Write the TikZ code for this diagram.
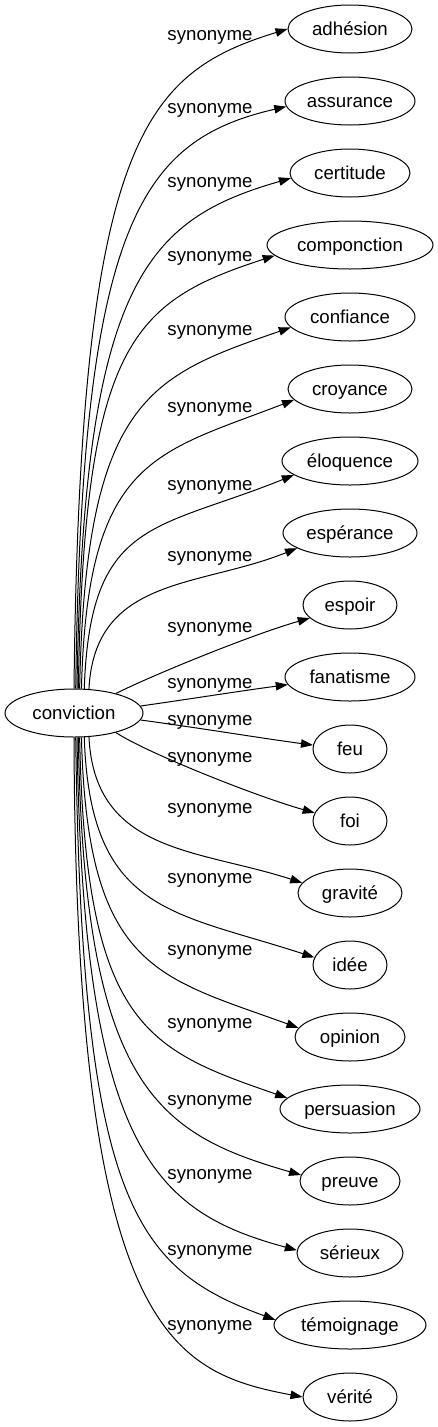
\documentclass[tikz,border=0pt]{standalone}
\usepackage{fontspec}
\setmainfont{Liberation Sans}
\usetikzlibrary{arrows.meta,shapes.geometric}
\newcommand\gvfont{\fontsize{18.67pt}{22pt}\selectfont}
\tikzset{
  tnode/.style={draw, ellipse, line width=1pt, inner sep=0pt, minimum height=48pt, text height=13pt, text depth=0pt, font=\gvfont},
  syn/.style={-{Triangle[length=12pt,width=8.5pt]}, line width=1pt},
  lbl/.style={anchor=base, inner sep=0pt, font=\gvfont}
}
\begin{document}
\begin{tikzpicture}[x=1pt,y=-1pt]
\useasboundingbox (0,0) rectangle (437,1427);
\node[tnode, minimum width=138pt] (c) at (74,713) {conviction};
\node[tnode, minimum width=124pt] (t0) at (350,29) {adhésion};
\node[tnode, minimum width=130pt] (t1) at (350,101) {assurance};
\node[tnode, minimum width=120pt] (t2) at (350,173) {certitude};
\node[tnode, minimum width=166pt] (t3) at (350,245) {componction};
\node[tnode, minimum width=130pt] (t4) at (350,317) {confiance};
\node[tnode, minimum width=124pt] (t5) at (350,389) {croyance};
\node[tnode, minimum width=136pt] (t6) at (350,461) {éloquence};
\node[tnode, minimum width=134pt] (t7) at (350,533) {espérance};
\node[tnode, minimum width=94pt] (t8) at (350,605) {espoir};
\node[tnode, minimum width=130pt] (t9) at (350,677) {fanatisme};
\node[tnode, minimum width=74pt] (t10) at (350,749) {feu};
\node[tnode, minimum width=74pt] (t11) at (350,821) {foi};
\node[tnode, minimum width=104pt] (t12) at (350,893) {gravité};
\node[tnode, minimum width=74pt] (t13) at (350,965) {idée};
\node[tnode, minimum width=110pt] (t14) at (350,1037) {opinion};
\node[tnode, minimum width=140pt] (t15) at (350,1109) {persuasion};
\node[tnode, minimum width=100pt] (t16) at (350,1181) {preuve};
\node[tnode, minimum width=106pt] (t17) at (350,1253) {sérieux};
\node[tnode, minimum width=152pt] (t18) at (350,1325) {témoignage};
\node[tnode, minimum width=94pt] (t19) at (350,1397) {vérité};
\draw[syn] (c.90) .. controls (80,139) and (144.6,72.9) .. (t0.180);
\draw[syn] (c.86) .. controls (81.7,223) and (140.5,140.2) .. (t1.185);
\draw[syn] (c.83) .. controls (83,280) and (147.7,219.4) .. (t2.185);
\draw[syn] (c.80) .. controls (84,342) and (132.6,301.9) .. (t3.188);
\draw[syn] (c.77) .. controls (85.5,399) and (149.6,376.1) .. (t4.190);
\draw[syn] (c.73) .. controls (87.3,458) and (154.6,453.6) .. (t5.191);
\draw[syn] (c.67) .. controls (90,518) and (155.4,531) .. (t6.194);
\draw[syn] (c.58) .. controls (94.7,576) and (199.4,587.7) .. (t7.196);
\draw[syn] (c.25) .. controls (155,674) and (252.6,634.4) .. (t8.198);
\draw[syn] (c.6) .. controls (190,699) and (240,691) .. (t9.187);
\draw[syn] (c.-6) .. controls (200,728) and (260,738) .. (t10.174);
\draw[syn] (c.-25) .. controls (145,752) and (255,796) .. (t11.167);
\draw[syn] (c.-58) .. controls (94.7,853.5) and (198.2,849) .. (t12.168);
\draw[syn] (c.-67) .. controls (90,913) and (172.1,911.1) .. (t13.168);
\draw[syn] (c.-73) .. controls (87.3,970) and (158,976.7) .. (t14.170);
\draw[syn] (c.-77) .. controls (85.5,1026) and (146,1049.2) .. (t15.170);
\draw[syn] (c.-80) .. controls (84,1087) and (157.4,1133.7) .. (t16.173);
\draw[syn] (c.-83) .. controls (83,1147) and (152.5,1211.2) .. (t17.177);
\draw[syn] (c.-86) .. controls (81.7,1203) and (134.8,1268.5) .. (t18.176);
\draw[syn] (c.-90) .. controls (76,1330) and (170,1372) .. (t19.180);
\node[lbl] (l0) at (210,40) {synonyme};
\node[lbl] (l1) at (210,113) {synonyme};
\node[lbl] (l2) at (210,187) {synonyme};
\node[lbl] (l3) at (210,261) {synonyme};
\node[lbl] (l4) at (210,335) {synonyme};
\node[lbl] (l5) at (210,412) {synonyme};
\node[lbl] (l6) at (210,490) {synonyme};
\node[lbl] (l7) at (210,561) {synonyme};
\node[lbl] (l8) at (210,632) {synonyme};
\node[lbl] (l9) at (210,688) {synonyme};
\node[lbl] (l10) at (210,725) {synonyme};
\node[lbl] (l11) at (210,762) {synonyme};
\node[lbl] (l12) at (210,813) {synonyme};
\node[lbl] (l13) at (210,883) {synonyme};
\node[lbl] (l14) at (210,955) {synonyme};
\node[lbl] (l15) at (210,1028) {synonyme};
\node[lbl] (l16) at (210,1105) {synonyme};
\node[lbl] (l17) at (210,1179) {synonyme};
\node[lbl] (l18) at (210,1255) {synonyme};
\node[lbl] (l19) at (210,1330) {synonyme};
\end{tikzpicture}
\end{document}
